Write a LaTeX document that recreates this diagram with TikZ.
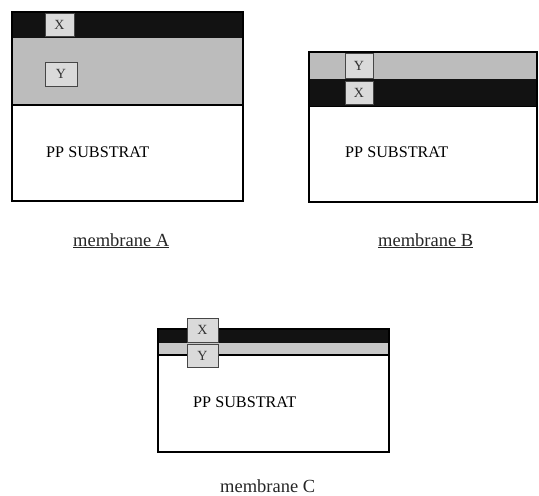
\documentclass[tikz,border=0pt]{standalone}
\usepackage{fontspec}
\setmainfont{Liberation Serif}
\definecolor{darkband}{RGB}{18,18,18}
\definecolor{grayband}{RGB}{188,188,188}
\definecolor{grayC}{RGB}{200,200,200}
\definecolor{tagfill}{RGB}{218,218,218}
\definecolor{tagdraw}{RGB}{70,70,70}
\begin{document}
\begin{tikzpicture}[x=1pt,y=-1pt,
  frame/.style={draw=black,line width=1.6pt},
  tag/.style={draw=tagdraw,fill=tagfill,line width=1pt,inner sep=0pt,
    font=\fontsize{14}{14}\selectfont,text=black!80},
  subst/.style={anchor=base west,inner sep=0pt,font=\fontsize{16.2}{16.2}\selectfont},
  caption/.style={anchor=base west,inner sep=0pt,font=\fontsize{18.5}{18.5}\selectfont,text=black!85}]
\useasboundingbox (0,0) rectangle (539,496);
% membrane A
\fill[darkband] (12,12) rectangle (243,38);
\fill[grayband] (12,38) rectangle (243,105);
\draw[line width=1.2pt] (12,105) -- (243,105);
\draw[frame] (12,12) rectangle (243,201);
\node[tag,minimum width=29pt,minimum height=23pt] (aX) at (59.5,24.5) {X};
\node[tag,minimum width=32pt,minimum height=24pt] (aY) at (61,74) {Y};
\node[subst] (aS) at (46,157) {PP SUBSTRAT};
\node[caption] (aL) at (73,246) {\underline{membrane A}};
% membrane B
\fill[grayband] (309,52) rectangle (537,79);
\fill[darkband] (309,79) rectangle (537,106);
\draw[frame] (309,52) rectangle (537,202);
\draw[line width=1pt] (309,106) -- (537,106);
\node[tag,minimum width=28pt,minimum height=25pt] (bY) at (359,65.5) {Y};
\node[tag,minimum width=28pt,minimum height=23pt] (bX) at (359,92.5) {X};
\node[subst] (bS) at (345,157) {PP SUBSTRAT};
\node[caption] (bL) at (378,246) {\underline{membrane B}};
% membrane C
\fill[darkband] (158,329) rectangle (389,343);
\fill[grayC] (158,343) rectangle (389,355);
\draw[line width=1.2pt] (158,355) -- (389,355);
\draw[frame] (158,329) rectangle (389,452);
\node[tag,minimum width=31pt,minimum height=24pt] (cX) at (202.5,330) {X};
\node[tag,minimum width=31pt,minimum height=23pt] (cY) at (202.5,355.5) {Y};
\node[subst] (cS) at (193,407) {PP SUBSTRAT};
\node[caption] (cL) at (220,492) {membrane C};
\end{tikzpicture}
\end{document}
